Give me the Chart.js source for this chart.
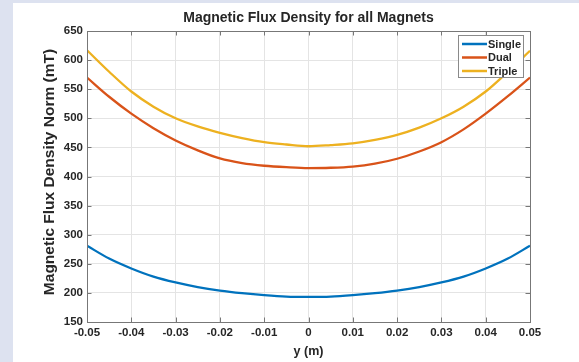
<!DOCTYPE html>
<html>
<head>
<meta charset="utf-8">
<script src="https://cdn.jsdelivr.net/npm/chart.js@4.4.1/dist/chart.umd.min.js"></script>
<style>
html,body{margin:0;padding:0;background:#fff;}
#wrap{position:absolute;left:0;top:0;width:579px;height:362px;}
</style>
</head>
<body>
<div id="wrap"><canvas id="c" width="579" height="362"></canvas></div>
<script>
const chartTitle = "Magnetic Flux Density for all Magnets";
const xAxisTitle = "y (m)";
const yAxisTitle = "Magnetic Flux Density Norm (mT)";
const xValues = [-0.05,-0.045,-0.04,-0.035,-0.03,-0.025,-0.02,-0.015,-0.01,-0.005,0,0.005,0.01,0.015,0.02,0.025,0.03,0.035,0.04,0.045,0.05];
const singleValues = [281,259,242,228,218,210,204,199.5,196,193.5,193,193.5,196,199.5,204,210,218,228,242,259,281];
const dualValues = [570,537,508,483,462,445,431,423,418.5,416,414.5,415,417,422,430.5,443,459,481,508,538,570];
const tripleValues = [617,580,546,520,500,486,475,466,459,455,452,454,457,463,471.5,484,500,520,546,580,616];
const seriesNames = ["Single","Dual","Triple"];
const seriesColors = ["#0072BD","#D95319","#EDB120"];
const xTickValues = [-0.05,-0.04,-0.03,-0.02,-0.01,0,0.01,0.02,0.03,0.04,0.05];
const xTickLabels = ["-0.05","-0.04","-0.03","-0.02","-0.01","0","0.01","0.02","0.03","0.04","0.05"];
const yTickValues = [150,200,250,300,350,400,450,500,550,600,650];
const yTickLabels = ["150","200","250","300","350","400","450","500","550","600","650"];

const FONT = "'Liberation Sans', Arial, sans-serif";
const TXT = "#262626";
const AXC = "#777777";

function mk(vals){ return xValues.map((x,i)=>({x:x,y:vals[i]})); }
const allSeries = [singleValues, dualValues, tripleValues];

const decor = {
  id:'decor',
  beforeDraw(chart){
    const ctx = chart.ctx;
    ctx.save();
    ctx.fillStyle = '#dde2f0';
    ctx.fillRect(0,0,579,362);
    ctx.fillStyle = '#ffffff';
    ctx.fillRect(13,3,566,359);
    ctx.restore();
  },
  afterDraw(chart){
    const ctx = chart.ctx, a = chart.chartArea;
    const xs = chart.scales.x, ys = chart.scales.y;
    ctx.save();
    ctx.strokeStyle = AXC; ctx.lineWidth = 1;
    ctx.strokeRect(Math.round(a.left)+0.5, Math.round(a.top)+0.5, Math.round(a.right-a.left), Math.round(a.bottom-a.top));
    const tl = 4.5;
    ctx.beginPath();
    xTickValues.forEach(v=>{
      const px = Math.round(xs.getPixelForValue(v))+0.5;
      ctx.moveTo(px,a.bottom); ctx.lineTo(px,a.bottom-tl);
      ctx.moveTo(px,a.top); ctx.lineTo(px,a.top+tl);
    });
    yTickValues.forEach(v=>{
      const py = Math.round(ys.getPixelForValue(v))+0.5;
      ctx.moveTo(a.left,py); ctx.lineTo(a.left+tl,py);
      ctx.moveTo(a.right,py); ctx.lineTo(a.right-tl,py);
    });
    ctx.stroke();
    ctx.fillStyle = TXT;
    ctx.textAlign = 'center'; ctx.textBaseline = 'middle';
    ctx.font = "bold 14px " + FONT;
    ctx.fillText(chartTitle, (a.left+a.right)/2, 18);
    ctx.font = "bold 12.5px " + FONT;
    ctx.fillText(xAxisTitle, (a.left+a.right)/2, 352);
    ctx.save();
    ctx.translate(50, 172);
    ctx.rotate(-Math.PI/2);
    ctx.font = "bold 15.5px " + FONT;
    ctx.fillText(yAxisTitle, 0, 0);
    ctx.restore();
    const lx = 458, ly = 35, lw = 65, lh = 42;
    ctx.fillStyle = '#ffffff';
    ctx.fillRect(lx,ly,lw,lh);
    ctx.strokeStyle = '#8a8a8a';
    ctx.strokeRect(lx+0.5,ly+0.5,lw,lh);
    ctx.font = "bold 11px " + FONT;
    ctx.textAlign = 'left';
    seriesNames.forEach((n,i)=>{
      const yy = ly + 9 + i*13.5;
      ctx.strokeStyle = seriesColors[i]; ctx.lineWidth = 2.5;
      ctx.beginPath(); ctx.moveTo(lx+4,yy); ctx.lineTo(lx+29,yy); ctx.stroke();
      ctx.fillStyle = TXT;
      ctx.fillText(n, lx+30, yy+0.5);
    });
    ctx.restore();
  }
};

new Chart(document.getElementById('c'), {
  type:'line',
  data:{
    datasets: seriesNames.map((n,i)=>({
      label:n,
      data:mk(allSeries[i]),
      borderColor:seriesColors[i],
      backgroundColor:seriesColors[i],
      borderWidth:2.3,
      pointRadius:0,
      cubicInterpolationMode:'monotone',
      fill:false
    }))
  },
  options:{
    responsive:false,
    animation:false,
    devicePixelRatio:1,
    layout:{padding:{left:0,right:49,top:31,bottom:0}},
    plugins:{legend:{display:false},title:{display:false},tooltip:{enabled:false}},
    scales:{
      x:{
        type:'linear', min:-0.05, max:0.05,
        afterBuildTicks(s){ s.ticks = xTickValues.map(v=>({value:v})); },
        afterFit(s){ s.height = 40; },
        ticks:{
          callback:(v,i)=>xTickLabels[i],
          color:TXT, font:{family:FONT, size:11.5, weight:'bold'}, padding:4, maxRotation:0, autoSkip:false
        },
        grid:{color:'#e4e4e4', drawTicks:false},
        border:{display:false}
      },
      y:{
        type:'linear', min:150, max:650,
        afterBuildTicks(s){ s.ticks = yTickValues.map(v=>({value:v})); },
        afterFit(s){ s.width = 87; },
        ticks:{
          callback:(v,i)=>yTickLabels[i],
          color:TXT, font:{family:FONT, size:11.5, weight:'bold'}, padding:4, autoSkip:false
        },
        grid:{color:'#e4e4e4', drawTicks:false},
        border:{display:false}
      }
    }
  },
  plugins:[decor]
});
</script>
</body>
</html>
